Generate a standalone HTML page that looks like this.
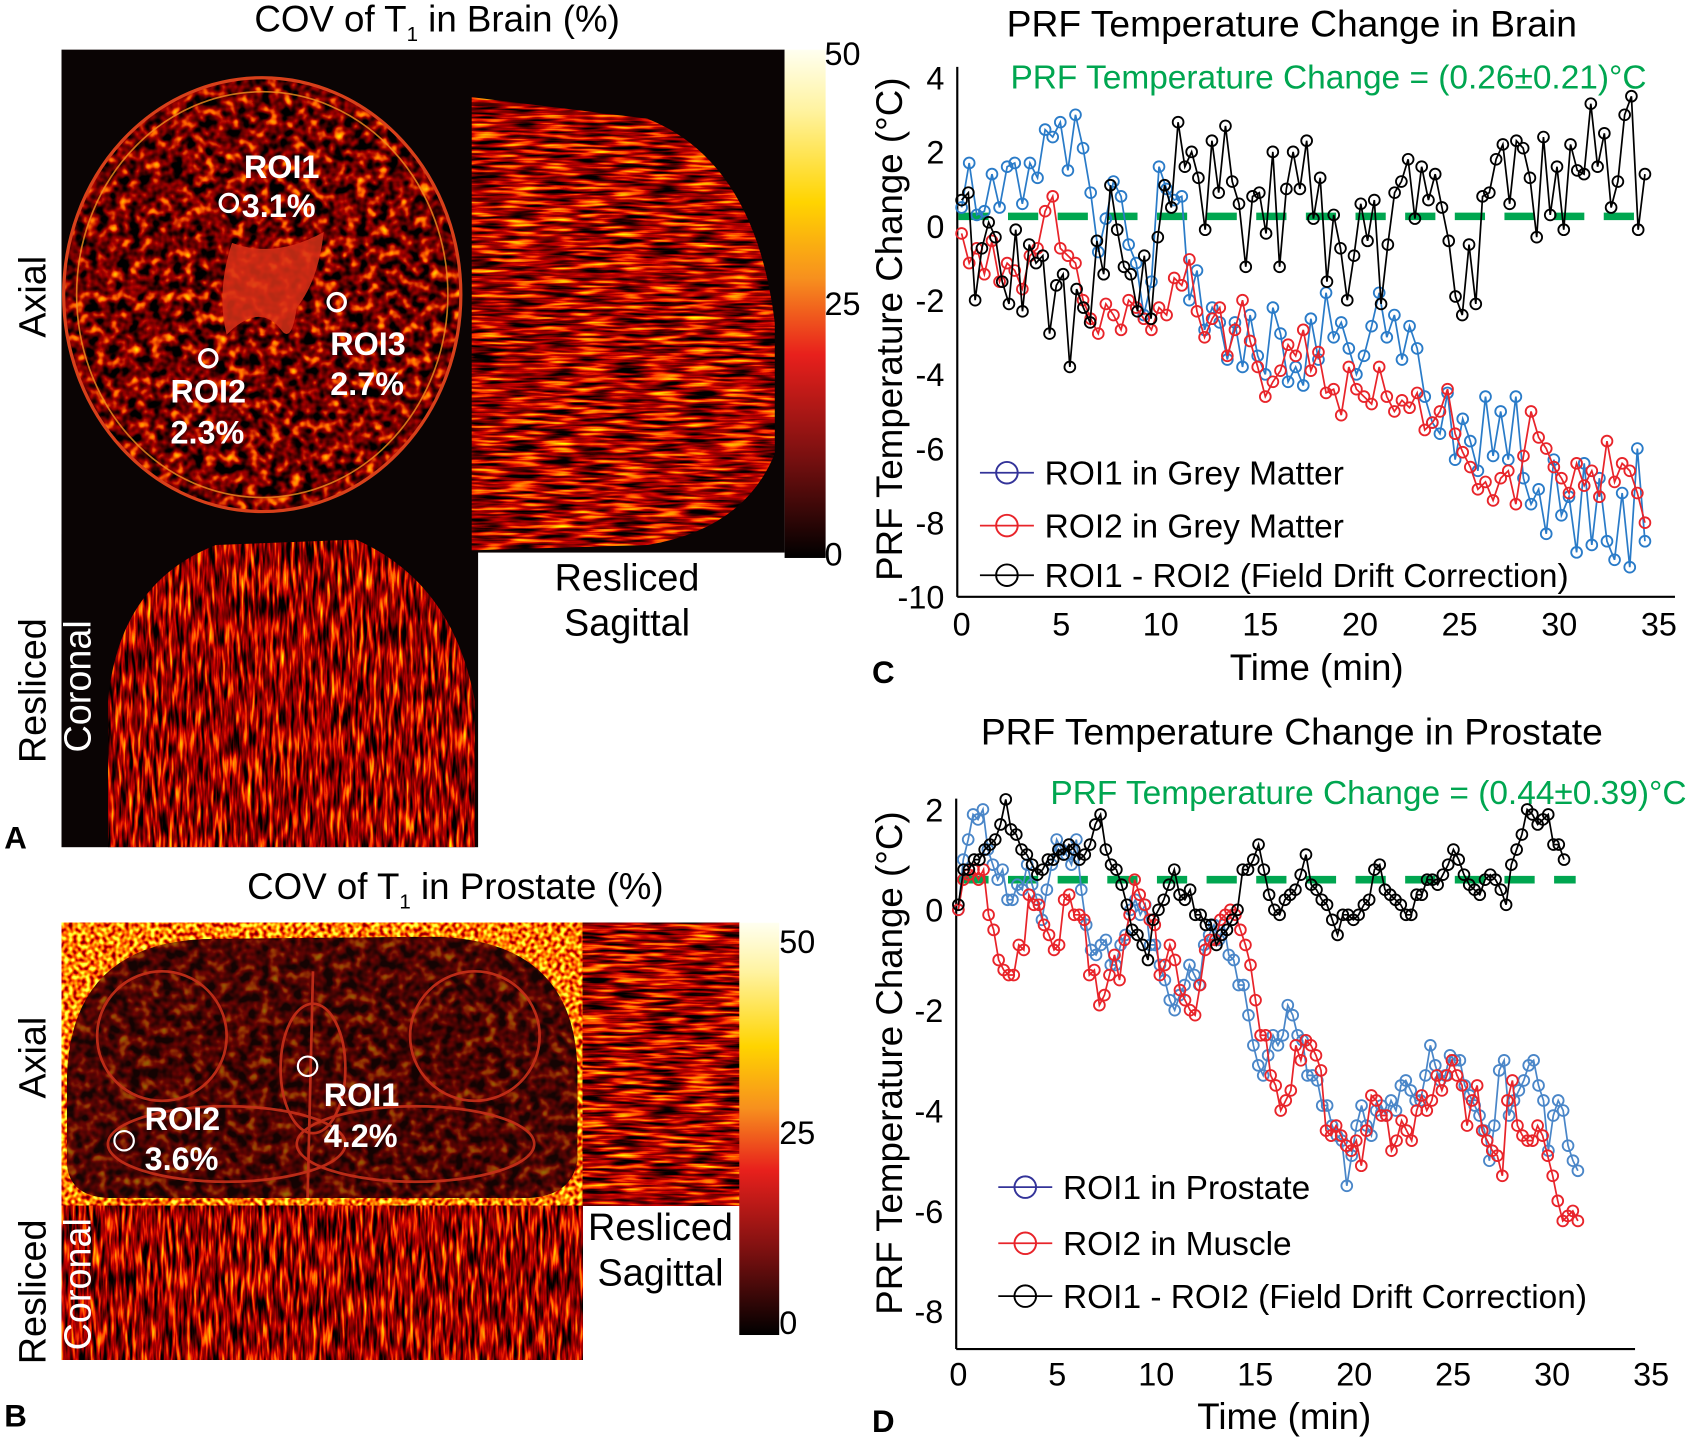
<!DOCTYPE html>
<html><head><meta charset="utf-8"><style>
html,body{margin:0;padding:0;background:#fff;}
svg{display:block;font-family:"Liberation Sans",Arial,sans-serif;}
</style></head><body>
<svg id="fig" width="1689" height="1437" viewBox="0 0 1565 1331.5" preserveAspectRatio="none" xmlns="http://www.w3.org/2000/svg">
<defs>
<linearGradient id="cmap" x1="0" y1="0" x2="0" y2="1">
<stop offset="0" stop-color="#fffff0"/><stop offset="0.12" stop-color="#fff3a0"/>
<stop offset="0.3" stop-color="#ffd400"/><stop offset="0.45" stop-color="#f7901e"/>
<stop offset="0.6" stop-color="#e8201c"/><stop offset="0.8" stop-color="#7a1010"/>
<stop offset="1" stop-color="#000"/></linearGradient>
<filter id="texH" x="0" y="0" width="1" height="1" color-interpolation-filters="sRGB"><feTurbulence type="fractalNoise" baseFrequency="0.03 0.3" numOctaves="2" seed="3"/>
<feColorMatrix type="matrix" values="2.8 0 0 0 -0.75  3.0 0 0 0 -1.65  0 0 0 0 0  0 0 0 0 1"/></filter>
<filter id="texV" x="0" y="0" width="1" height="1" color-interpolation-filters="sRGB"><feTurbulence type="fractalNoise" baseFrequency="0.3 0.04" numOctaves="2" seed="7"/>
<feColorMatrix type="matrix" values="2.8 0 0 0 -0.8  3.0 0 0 0 -1.7  0 0 0 0 0  0 0 0 0 1"/></filter>
<filter id="texF" x="0" y="0" width="1" height="1" color-interpolation-filters="sRGB"><feTurbulence type="fractalNoise" baseFrequency="0.1" numOctaves="2" seed="5"/>
<feColorMatrix type="matrix" values="2.4 0 0 0 -0.75  2.8 0 0 0 -1.65  0 0 0 0 0  0 0 0 0 1"/></filter>
<filter id="texB" x="0" y="0" width="1" height="1" color-interpolation-filters="sRGB"><feTurbulence type="fractalNoise" baseFrequency="0.25" numOctaves="1" seed="9"/>
<feColorMatrix type="matrix" values="2.5 0 0 0 -0.1  3.2 0 0 0 -1.1  1.5 0 0 0 -0.8  0 0 0 0 1"/></filter>
<clipPath id="cpHead"><ellipse cx="243" cy="273" rx="183" ry="200"/></clipPath>
<clipPath id="cpSag"><path d="M437 90 L600 110 Q700 150 718 300 L718 420 Q690 490 600 505 L437 510 Z"/></clipPath>
<clipPath id="cpCor"><path d="M100 785 L100 650 Q110 540 200 505 L330 500 Q420 540 440 650 L440 785 Z"/></clipPath>
<clipPath id="cpBody"><path d="M62 1000 Q65 870 200 870 L400 868 Q537 870 535 1000 L535 1075 Q530 1108 490 1110 L100 1110 Q62 1108 62 1075 Z"/></clipPath>
</defs>
<g id="panelA">
<text x="405" y="29" font-size="34" text-anchor="middle">COV of T<tspan font-size="19" dy="9">1</tspan><tspan dy="-9"> in Brain (%)</tspan></text>
<rect x="57" y="46" width="670" height="466" fill="#0a0404"/>
<rect x="57" y="495" width="386" height="290" fill="#0a0404"/>
<g clip-path="url(#cpHead)"><rect x="57" y="70" width="372" height="410" filter="url(#texF)"/></g>
<ellipse cx="243" cy="273" rx="184" ry="201" fill="none" stroke="#d8401a" stroke-width="3"/>
<ellipse cx="243" cy="273" rx="172" ry="188" fill="none" stroke="#f0901e" stroke-width="1.5" opacity="0.8"/>
<path d="M215 225 Q255 240 300 215 Q295 260 275 285 Q270 320 260 305 Q240 280 210 310 Q200 270 215 225 Z" fill="#d83018" opacity="0.85"/>
<g clip-path="url(#cpSag)"><rect x="437" y="80" width="285" height="432" filter="url(#texH)"/></g>
<g clip-path="url(#cpCor)"><rect x="95" y="497" width="348" height="288" filter="url(#texV)"/></g>
<g fill="none" stroke="#fff" stroke-width="3">
<circle cx="212" cy="188" r="8"/>
<circle cx="312" cy="280" r="8"/>
<circle cx="193" cy="332" r="8"/></g>
<g fill="#fff" font-weight="bold" font-size="30">
<text x="226" y="165">ROI1</text>
<text x="224" y="201">3.1%</text>
<text x="306" y="329">ROI3</text>
<text x="306" y="366">2.7%</text>
<text x="158" y="373">ROI2</text>
<text x="158" y="411">2.3%</text></g>
<rect x="727" y="46" width="38" height="471" fill="url(#cmap)"/>
<g font-size="30"><text x="764" y="60">50</text><text x="764" y="292">25</text><text x="764" y="524">0</text></g>
<text transform="translate(42,275) rotate(-90)" font-size="35" text-anchor="middle">Axial</text>
<text transform="translate(42,640) rotate(-90)" font-size="35" text-anchor="middle">Resliced</text>
<text transform="translate(84,636) rotate(-90)" font-size="35" text-anchor="middle" fill="#fff">Coronal</text>
<text x="581" y="547" font-size="35" text-anchor="middle">Resliced</text>
<text x="581" y="589" font-size="35" text-anchor="middle">Sagittal</text>
<text x="4" y="786" font-size="29" font-weight="bold">A</text>
</g>
<g id="panelB">
<text x="422" y="833" font-size="34" text-anchor="middle">COV of T<tspan font-size="19" dy="9">1</tspan><tspan dy="-9"> in Prostate (%)</tspan></text>
<rect x="57" y="855" width="483" height="262" filter="url(#texB)"/>
<g clip-path="url(#cpBody)"><rect x="57" y="860" width="483" height="255" fill="#2a0806"/><rect x="57" y="860" width="483" height="255" filter="url(#texF)" opacity="0.5"/></g>
<g fill="none" stroke="#c8301a" stroke-width="2.5" opacity="0.9">
<ellipse cx="150" cy="960" rx="60" ry="60"/><ellipse cx="440" cy="960" rx="60" ry="60"/>
<ellipse cx="210" cy="1060" rx="110" ry="35"/><ellipse cx="385" cy="1060" rx="110" ry="35"/>
<path d="M290 900 L285 1110"/><ellipse cx="290" cy="990" rx="30" ry="60"/></g>
<rect x="540" y="855" width="145" height="262" filter="url(#texH)"/>
<rect x="57" y="1117" width="483" height="143" filter="url(#texV)"/>
<g fill="none" stroke="#fff" stroke-width="2">
<circle cx="285" cy="988" r="9"/>
<circle cx="115" cy="1057" r="9"/></g>
<g fill="#fff" font-weight="bold" font-size="30">
<text x="300" y="1025">ROI1</text>
<text x="300" y="1063">4.2%</text>
<text x="134" y="1047">ROI2</text>
<text x="134" y="1084">3.6%</text></g>
<rect x="685" y="855" width="37" height="382" fill="url(#cmap)"/>
<g font-size="30"><text x="722" y="883">50</text><text x="722" y="1060">25</text><text x="722" y="1236">0</text></g>
<text transform="translate(42,980) rotate(-90)" font-size="35" text-anchor="middle">Axial</text>
<text transform="translate(42,1197) rotate(-90)" font-size="35" text-anchor="middle">Resliced</text>
<text transform="translate(84,1190) rotate(-90)" font-size="35" text-anchor="middle" fill="#fff">Coronal</text>
<text x="612" y="1149" font-size="35" text-anchor="middle">Resliced</text>
<text x="612" y="1191" font-size="35" text-anchor="middle">Sagittal</text>
<text x="4" y="1322" font-size="29" font-weight="bold">B</text>
</g>
<g id="chartC"></g>
<g id="chartD"></g>
</svg>
<script>
// ---- Chart C data (brain) ----
const brainDuration = 34.3;
const brainMean = 0.26;
const brainXTicks = [0,5,10,15,20,25,30,35];
const brainYTicks = [4,2,0,-2,-4,-6,-8,-10];
const brainRoi1 = [0.5,1.7,0.3,0.4,1.4,0.5,1.6,1.7,0.6,1.7,1.3,2.6,2.4,2.8,1.5,3.0,2.1,0.9,-0.7,0.2,1.2,0.8,-0.5,-1.0,-2.4,-1.5,1.6,1.0,0.7,0.8,-2.0,-1.2,-2.8,-2.2,-2.6,-3.6,-2.6,-3.8,-2.4,-3.5,-4.0,-2.2,-2.9,-4.2,-3.8,-4.3,-2.5,-3.6,-1.8,-3.0,-2.6,-3.3,-4.0,-3.5,-2.7,-1.8,-3.0,-2.4,-3.6,-2.7,-3.3,-4.6,-5.3,-5.6,-4.5,-6.3,-5.2,-5.8,-6.6,-4.6,-6.2,-5.0,-6.3,-4.6,-6.8,-7.5,-7.1,-8.3,-6.3,-7.8,-7.3,-8.8,-6.4,-8.6,-6.8,-8.5,-9.0,-7.2,-9.2,-6.0,-8.5];
const brainRoi2 = [-0.2,-1.0,-0.6,-1.3,-0.4,-1.5,-1.0,-1.2,-1.7,-0.8,-0.6,0.4,0.8,-0.6,-0.8,-1.0,-2.0,-2.5,-2.9,-2.1,-2.4,-2.8,-2.0,-2.2,-2.5,-2.8,-2.2,-2.4,-1.4,-1.6,-0.9,-2.3,-3.0,-2.5,-2.2,-3.5,-2.8,-2.0,-3.1,-3.8,-4.6,-4.2,-3.9,-3.2,-3.5,-2.8,-3.9,-3.4,-4.5,-4.4,-5.1,-3.8,-4.4,-4.6,-4.8,-3.8,-4.6,-5.0,-4.7,-4.9,-4.5,-5.5,-5.3,-5.0,-4.4,-5.6,-6.1,-6.5,-7.1,-6.9,-7.4,-6.8,-6.6,-7.5,-6.2,-5.0,-5.7,-6.0,-6.5,-6.8,-7.2,-6.4,-7.0,-6.6,-7.3,-5.8,-6.9,-6.4,-6.6,-7.2,-8.0];
const brainDiff = [0.7,0.9,-2.0,-0.6,0.1,-0.3,-1.5,-2.1,-0.1,-2.3,-0.5,-1.0,-0.8,-2.9,-1.6,-1.3,-3.8,-1.7,-2.2,-2.6,-0.4,-1.3,1.1,-0.1,-1.1,-1.3,-2.3,-0.8,-2.5,-0.3,1.1,0.5,2.8,1.6,2.0,1.3,-0.1,2.3,0.9,2.7,1.2,0.6,-1.1,0.8,0.9,-0.2,2.0,-1.1,1.0,2.0,1.0,2.3,0.2,1.3,-1.5,0.3,-0.6,-2.0,-0.8,0.6,-0.4,0.7,-2.1,-0.5,0.9,1.2,1.8,0.2,1.6,0.7,1.4,0.5,-0.4,-1.9,-2.4,-0.5,-2.1,0.8,0.9,1.8,2.2,0.6,2.3,2.1,1.3,-0.3,2.4,0.3,1.6,-0.1,2.2,1.5,1.4,3.3,1.6,2.5,0.5,1.2,3.0,3.5,-0.1,1.4];
// ---- Chart D data (prostate) ----
const prostDuration = 31.3;
const prostDiffDuration = 30.6;
const prostMean = 0.6;
const prostXTicks = [0,5,10,15,20,25,30,35];
const prostYTicks = [2,0,-2,-4,-6,-8];
const prostRoi1 = [0.0,1.0,1.4,1.9,1.8,2.0,1.2,0.9,0.6,0.8,0.2,0.2,0.5,0.4,0.9,0.5,0.2,-0.2,0.4,0.9,1.4,1.2,1.1,0.9,1.4,0.4,-0.3,-0.8,-0.9,-0.7,-0.6,-1.1,-1.1,-0.7,-0.5,0.0,0.2,-0.1,0.1,-0.7,-0.7,-1.1,-1.4,-1.8,-2.0,-1.7,-1.5,-1.1,-1.3,-1.5,-0.7,-0.5,-0.3,-0.6,-0.3,-0.9,-1.0,-1.5,-1.5,-2.1,-2.7,-3.1,-3.3,-2.9,-2.5,-2.7,-2.5,-1.9,-2.1,-2.5,-2.6,-3.3,-3.3,-3.4,-3.9,-3.9,-4.3,-4.5,-4.6,-5.5,-4.9,-4.3,-3.9,-4.3,-4.5,-4.0,-3.9,-4.1,-3.8,-4.0,-3.5,-3.4,-3.6,-3.8,-3.8,-3.3,-2.7,-3.1,-3.4,-3.3,-2.9,-3.0,-3.0,-3.5,-3.7,-3.9,-4.1,-4.4,-5.0,-4.3,-3.2,-3.0,-4.1,-3.8,-3.6,-3.4,-3.1,-3.0,-3.5,-3.8,-4.8,-4.1,-3.8,-4.0,-4.7,-5.0,-5.2];
const prostRoi2 = [0.0,0.6,0.7,0.8,0.6,0.8,-0.1,-0.4,-1.0,-1.2,-1.3,-1.3,-0.7,-0.8,0.3,0.1,0.1,-0.3,-0.5,-0.8,-0.7,0.2,0.3,-0.1,-0.1,-0.2,-1.3,-1.2,-1.9,-1.7,-1.3,-0.9,-1.4,-0.6,-0.1,0.6,0.3,0.1,-0.2,-0.3,-1.3,-1.1,-0.7,-1.0,-1.6,-1.8,-2.0,-2.1,-1.5,-0.8,-0.6,-0.6,-0.2,-0.1,0.0,-0.1,-0.4,-0.7,-1.1,-1.8,-2.5,-2.5,-3.3,-3.5,-4.0,-3.8,-3.6,-2.7,-3.0,-2.6,-2.7,-2.9,-3.2,-4.4,-4.5,-4.3,-4.5,-4.7,-4.8,-4.6,-5.1,-4.4,-3.7,-3.8,-4.1,-4.1,-4.8,-4.6,-4.2,-4.4,-4.6,-4.0,-3.7,-4.0,-3.8,-3.3,-3.6,-3.3,-3.0,-3.3,-3.5,-4.3,-3.8,-3.5,-4.4,-4.6,-4.8,-4.9,-5.3,-3.8,-3.4,-4.3,-4.5,-4.6,-4.6,-4.3,-4.5,-4.9,-5.3,-5.8,-6.2,-6.1,-6.0,-6.2];
const prostDiff = [0.1,0.8,0.8,1.0,1.0,1.2,1.3,1.4,1.7,2.2,1.6,1.5,1.2,1.1,0.9,0.7,0.8,1.0,1.0,1.2,1.1,1.3,1.2,1.0,1.1,1.3,1.7,1.9,1.2,0.9,0.8,0.5,0.1,-0.4,-0.5,-0.7,-1.0,-0.2,0.0,0.2,0.5,0.8,0.3,0.2,0.4,-0.1,-0.1,-0.3,-0.3,-0.7,-0.5,-0.4,-0.2,0.0,0.8,0.8,1.0,1.3,0.8,0.3,0.0,-0.1,0.2,0.3,0.4,0.7,1.1,0.5,0.4,0.2,0.1,-0.2,-0.5,-0.1,-0.1,-0.2,-0.1,0.1,0.2,0.8,0.9,0.4,0.3,0.2,0.1,-0.1,-0.1,0.3,0.3,0.6,0.6,0.5,0.7,0.9,1.2,1.0,0.7,0.5,0.4,0.3,0.6,0.7,0.6,0.4,0.1,0.9,1.2,1.5,2.0,1.9,1.7,1.8,1.9,1.3,1.3,1.0];

const NS='http://www.w3.org/2000/svg';
function mk(parent, tag, attrs, txt){const e=document.createElementNS(NS,tag);for(const k in attrs)e.setAttribute(k,attrs[k]);if(txt!==undefined)e.textContent=txt;parent.appendChild(e);return e;}

function drawChart(g, cfg){
  const xs=t=>cfg.x0+t*cfg.xs, ys=v=>cfg.y0+(cfg.yTop-v)*cfg.ys;
  let t=mk(g,'text',{x:cfg.titleX,y:cfg.titleY,'font-size':34.5,'text-anchor':'middle'},cfg.title);
  
  
  let gt=mk(g,'text',{x:cfg.greenX,y:cfg.greenY,'font-size':31,fill:'#00a650','text-anchor':'middle'},cfg.green);
  
  
  let ya=mk(g,'line',{x1:cfg.axX,y1:cfg.axTop,x2:cfg.axX,y2:cfg.axBot,stroke:'#000','stroke-width':2});
  
  
  let xa=mk(g,'line',{x1:cfg.axX,y1:cfg.axBot,x2:cfg.axRight,y2:cfg.axBot,stroke:'#000','stroke-width':2});
  
  
  cfg.yTicks.forEach(v=>{let e=mk(g,'text',{x:cfg.axX-12,y:ys(v)+11,'font-size':30,'text-anchor':'end'},String(v));
    
    });
  cfg.xTicks.forEach(v=>{let e=mk(g,'text',{x:xs(v),y:cfg.xTickY,'font-size':30,'text-anchor':'middle'},String(v));
    
    });
  let yl=mk(g,'text',{transform:`translate(${cfg.ylX},${cfg.ylY}) rotate(-90)`,'font-size':34,'text-anchor':'middle'},'PRF Temperature Change (°C)');
  
  
  let xl=mk(g,'text',{x:cfg.xlX,y:cfg.xlY,'font-size':34,'text-anchor':'middle'},'Time (min)');
  
  
  let lt=mk(g,'text',{x:808,y:cfg.xlY+3,'font-size':29,'font-weight':'bold'},cfg.letter);
  
  
  let ml=mk(g,'line',{x1:cfg.dashX1,y1:ys(cfg.mean),x2:cfg.dashX2,y2:ys(cfg.mean),stroke:'#00a650','stroke-width':7,'stroke-dasharray':'28 18'});
  
  
  cfg.series.forEach(s=>{
    const sg=mk(g,'g',{});
    
    
    const n=s.vals.length, dt=s.dur/(n-1);
    const pts=s.vals.map((v,i)=>[xs(i*dt),ys(v)]);
    mk(sg,'polyline',{points:pts.map(p=>p.join(',')).join(' '),fill:'none',stroke:s.color,'stroke-width':1.6});
    pts.forEach(p=>{const c=mk(sg,'circle',{cx:p[0],cy:p[1],r:cfg.r,fill:'none',stroke:s.color,'stroke-width':1.7});
      
      });
  });
  cfg.legend.forEach((L,i)=>{
    const y=cfg.legY[i];
    const lg=mk(g,'g',{});
    
    
    mk(lg,'line',{x1:cfg.legX,y1:y,x2:cfg.legX+50,y2:y,stroke:L.color,'stroke-width':1.6});
    mk(lg,'circle',{cx:cfg.legX+25,cy:y,r:10,fill:'none',stroke:L.color,'stroke-width':1.8});
    mk(lg,'text',{x:cfg.legX+60,y:y+11,'font-size':31},L.label);
  });
}
drawChart(document.getElementById('chartC'),{
  x0:891,xs:18.46,y0:72,ys:34.36,yTop:4,axX:887,axTop:62,axBot:553,axRight:1552,
  yTicks:brainYTicks,xTicks:brainXTicks,xTickY:589,mean:brainMean,dashX1:888,dashX2:1528,r:5,
  title:'PRF Temperature Change in Brain',titleX:1197,titleY:34,
  green:'PRF Temperature Change = (0.26±0.21)°C',greenX:1231,greenY:82,
  ylX:836,ylY:305,xlX:1220,xlY:630,letter:'C',
  series:[{name:'roi1-grey-matter-series',vals:brainRoi1,color:'#2a7bc8',dur:brainDuration},
          {name:'roi2-grey-matter-series',vals:brainRoi2,color:'#e8242a',dur:brainDuration},
          {name:'field-drift-corrected-series',vals:brainDiff,color:'#000',dur:brainDuration}],
  legX:908,legY:[438,487,533],
  legend:[{label:'ROI1 in Grey Matter',color:'#333399'},{label:'ROI2 in Grey Matter',color:'#e8242a'},{label:'ROI1 - ROI2 (Field Drift Correction)',color:'#000'}]
});
drawChart(document.getElementById('chartD'),{
  x0:888,xs:18.34,y0:750,ys:46.5,yTop:2,axX:886,axTop:740,axBot:1250,axRight:1515,
  yTicks:prostYTicks,xTicks:prostXTicks,xTickY:1284,mean:prostMean,dashX1:888,dashX2:1460,r:5,
  title:'PRF Temperature Change in Prostate',titleX:1197,titleY:690,
  green:'PRF Temperature Change = (0.44±0.39)°C',greenX:1268,greenY:745,
  ylX:836,ylY:985,xlX:1190,xlY:1324,letter:'D',
  series:[{name:'roi1-prostate-series',vals:prostRoi1,color:'#4a86c8',dur:prostDuration},
          {name:'roi2-muscle-series',vals:prostRoi2,color:'#e8242a',dur:prostDuration},
          {name:'field-drift-corrected-series',vals:prostDiff,color:'#000',dur:prostDiffDuration}],
  legX:925,legY:[1100,1152,1201],
  legend:[{label:'ROI1 in Prostate',color:'#333399'},{label:'ROI2 in Muscle',color:'#e8242a'},{label:'ROI1 - ROI2 (Field Drift Correction)',color:'#000'}]
});
</script>
</body></html>
